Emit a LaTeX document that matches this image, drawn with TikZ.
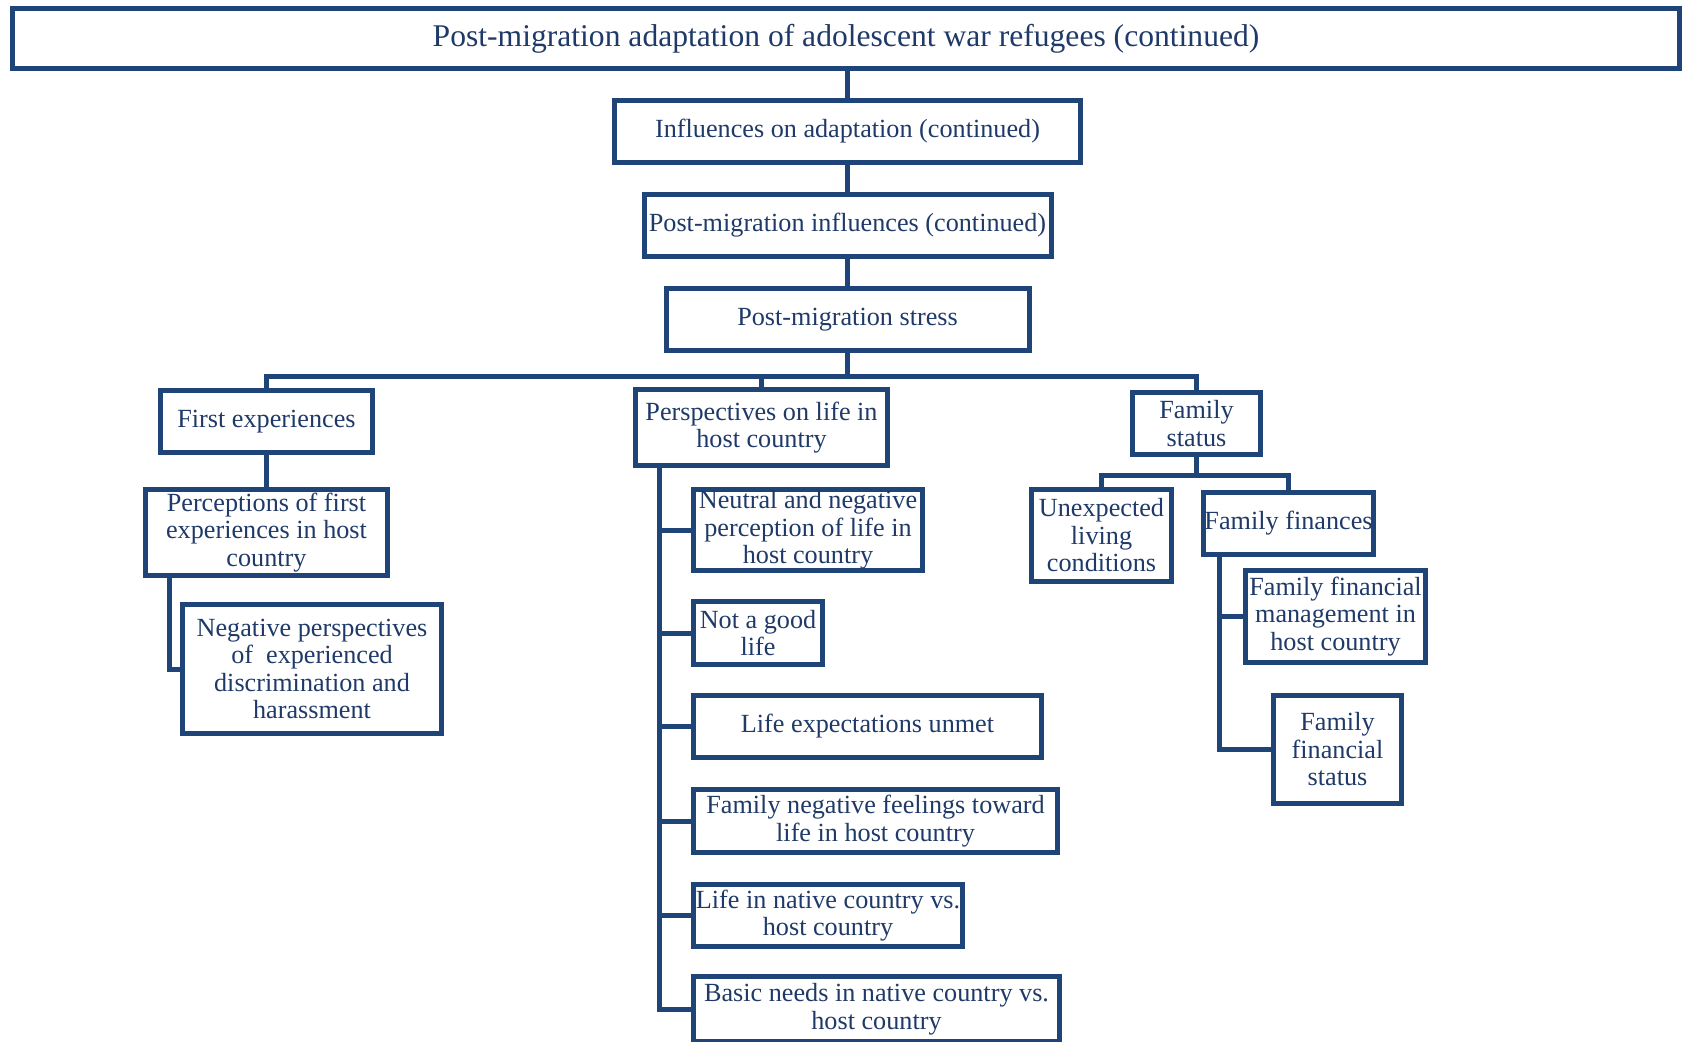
\documentclass[tikz,border=0pt]{standalone}
\usepackage{fontspec}
\setmainfont{Liberation Serif}
\definecolor{lineblue}{RGB}{31,68,119}
\definecolor{textblue}{RGB}{31,58,104}
\newcommand\boxfont{\fontsize{13.1}{13.75}\selectfont}
\newcommand\titlefont{\fontsize{15.8}{18}\selectfont}
\tikzset{
  box/.style={draw=lineblue, line width=2.5pt, line join=miter, inner sep=0pt,
    align=center, text=textblue, font=\boxfont},
  link/.style={draw=lineblue, line width=2.5pt, line join=miter}
}
\begin{document}
\begin{tikzpicture}[x=0.5pt, y=-0.5pt]
\useasboundingbox (0,0) rectangle (1684,1041);

% spine of the tree
\node[box, font=\titlefont, minimum width=833.5pt, minimum height=30pt] (top) at (846,38.5)
  {Post-migration adaptation of adolescent war refugees (continued)};
\node[box, minimum width=233pt, minimum height=31pt] (infl) at (847.5,131.5)
  {Influences on adaptation (continued)};
\node[box, minimum width=203.5pt, minimum height=31pt] (pmi) at (847.5,225.5)
  {Post-migration influences (continued)};
\node[box, minimum width=181.5pt, minimum height=31pt] (pms) at (847.5,319.5)
  {Post-migration stress};

% first experiences branch
\node[box, minimum width=106pt, minimum height=31pt] (first) at (266.5,421.5)
  {First experiences};
\node[box, minimum width=121pt, minimum height=43pt] (perc) at (266.5,532.5)
  {Perceptions of first\\experiences in host\\country};
\node[box, minimum width=129.5pt, minimum height=64.5pt] (neg) at (312,669)
  {Negative perspectives\\of~ experienced\\discrimination and\\harassment};

% perspectives branch
\node[box, minimum width=126pt, minimum height=38pt] (persp) at (761.5,427.5)
  {Perspectives on life in\\host country};
\node[box, minimum width=114.5pt, minimum height=40.5pt] (neutral) at (808,530)
  {Neutral and negative\\perception of life in\\host country};
\node[box, minimum width=64.5pt, minimum height=31.5pt] (notgood) at (758,633)
  {Not a good\\life};
\node[box, minimum width=174pt, minimum height=31pt] (lifeexp) at (867.5,726.5)
  {Life expectations unmet};
\node[box, minimum width=182pt, minimum height=31.5pt] (famneg) at (875.5,821)
  {Family negative feelings toward\\life in host country};
\node[box, minimum width=134.5pt, minimum height=31pt] (lifenat) at (828,915.5)
  {Life in native country vs.\\host country};
\node[box, minimum width=183pt, minimum height=32.5pt] (basic) at (876.5,1009)
  {Basic needs in native country vs.\\host country};

% family status branch
\node[box, minimum width=64pt, minimum height=31pt] (fstatus) at (1196.5,423.5)
  {Family\\status};
\node[box, minimum width=70pt, minimum height=46pt] (unexp) at (1101.5,535.5)
  {Unexpected\\living\\conditions};
\node[box, minimum width=85pt, minimum height=31pt] (ffin) at (1288.5,523.5)
  {Family finances};
\node[box, minimum width=90pt, minimum height=46pt] (ffm) at (1335.5,616.5)
  {Family financial\\management in\\host country};
\node[box, minimum width=64pt, minimum height=54pt] (ffs) at (1337.5,749.5)
  {Family\\financial\\status};

% junctions
\coordinate (hub) at (847.5,376);
\coordinate (fhub) at (1196.5,475);

% connectors
\draw[link] (infl.north |- top.south) -- (infl.north);
\draw[link] (infl.south) -- (pmi.north);
\draw[link] (pmi.south) -- (pms.north);
\draw[link] (pms.south) -- (hub);
\draw[link] (first.north) |- (hub);
\draw[link] (persp.north) |- (hub);
\draw[link] (fstatus.north) |- (hub);

\draw[link] (first.south) -- (perc.north);
\draw[link] (perc.south west) ++(26,0) |- (neg.west);

\foreach \c in {neutral,notgood,lifeexp,famneg,lifenat,basic}
  \draw[link] (persp.south west) ++(26,0) |- (\c.west);

\draw[link] (fstatus.south) -- (fhub);
\draw[link] (unexp.north) |- (fhub);
\draw[link] (ffin.north) |- (fhub);
\draw[link] (ffin.south west) ++(18,0) |- (ffm.west);
\draw[link] (ffin.south west) ++(18,0) |- (ffs.west);
\end{tikzpicture}
\end{document}
